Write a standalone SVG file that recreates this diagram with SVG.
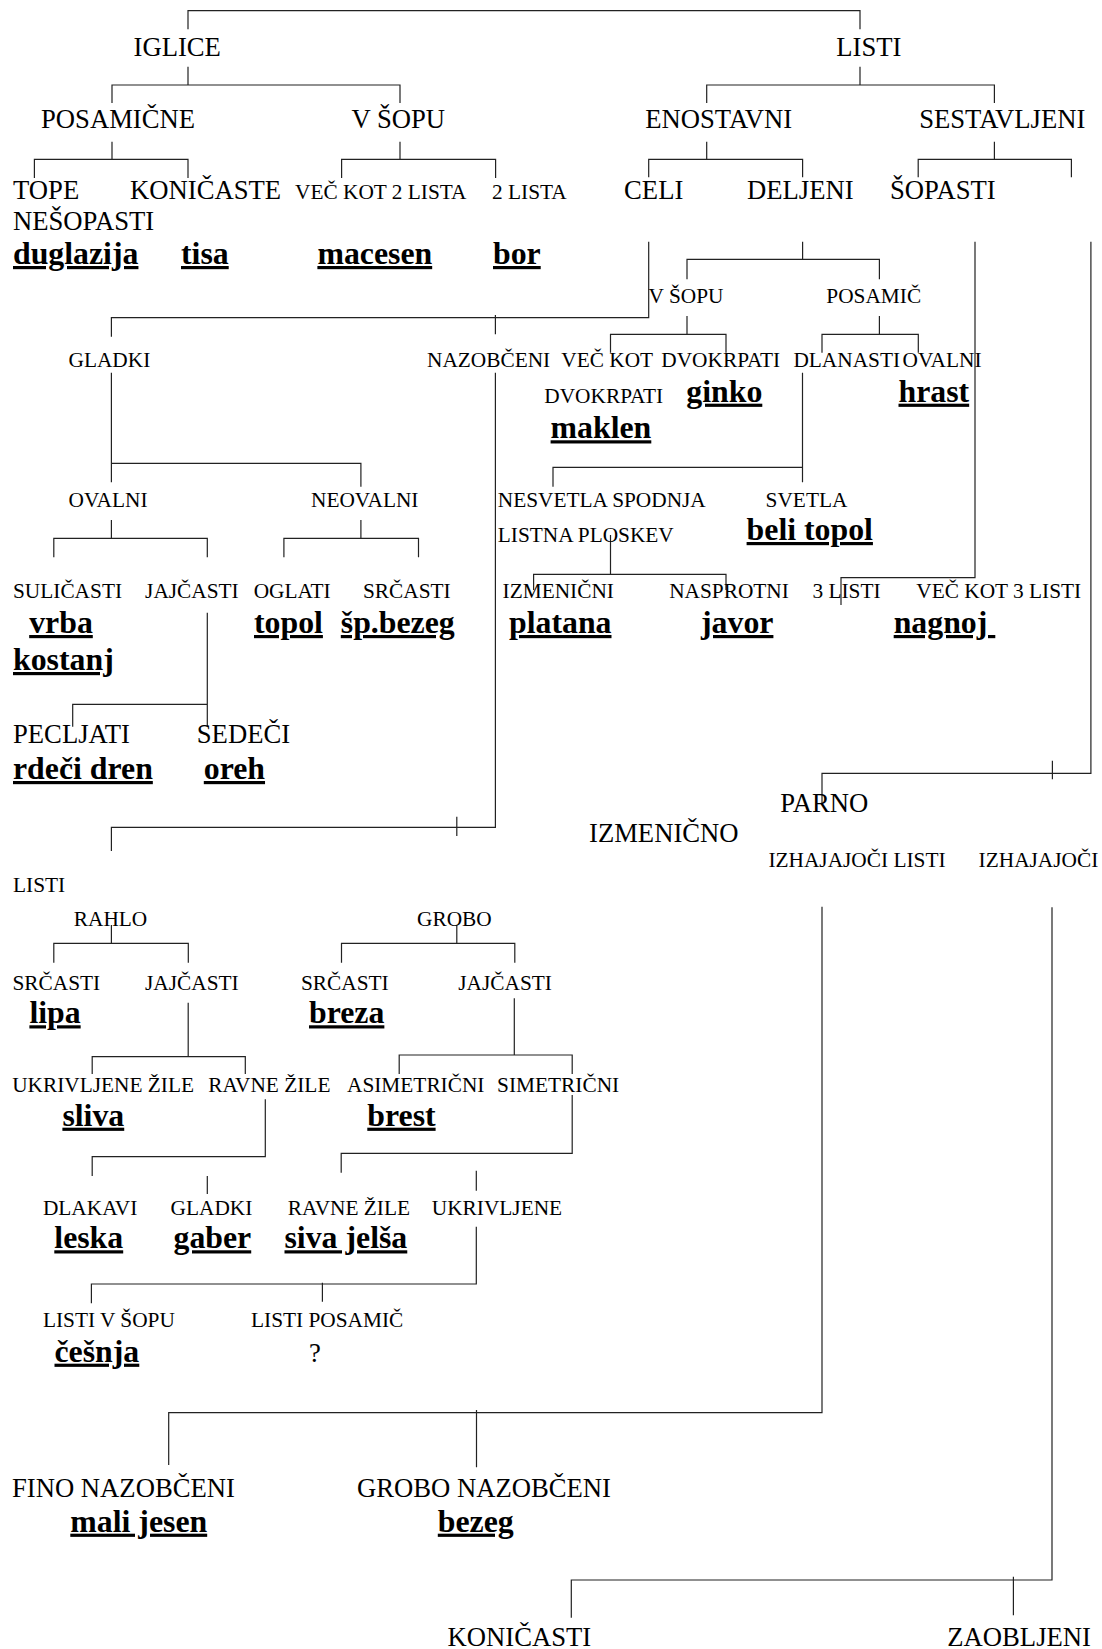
<svg xmlns="http://www.w3.org/2000/svg" width="1102" height="1649" viewBox="0 0 1102 1649">
<style>
text{font-family:"Liberation Serif","Times New Roman",serif;fill:#000}
.b{font-size:26.67px}
.s{font-size:21.33px}
.k{font-size:31.8px;font-weight:bold;text-decoration:underline;white-space:pre}
#connectors path{fill:none;stroke:#222;stroke-width:1.2}
</style>
<rect width="1102" height="1649" fill="#fff"/>
<g id="connectors">
<path d="M188,29.3V10.7H860V29.3"/>
<path d="M188,66.7V85M112,103V85H400V103"/>
<path d="M112,141.7V159.3M34.4,178V159.3H188V178"/>
<path d="M400,141.7V159.3M341.6,178V159.3H495.6V178"/>
<path d="M860,66.7V85M706.7,103V85H994.4V103"/>
<path d="M706.7,141.7V159.3M648.7,177.3V159.3H802.6V177.3"/>
<path d="M994.4,141.7V159.3M918.2,177.3V159.3H1071.4V177.3"/>
<path d="M648.7,241.7V317.7H111.4V336.7M495.4,315V334.3"/>
<path d="M802.6,241.7V259.3M687,279.3V259.3H879.4V279.3"/>
<path d="M687,316V334.3M610.5,352.7V334.3H726V352.7"/>
<path d="M879.4,316V334.3M822,352.7V334.3H918.3V352.7"/>
<path d="M111.4,372.7V482.3M111.4,463.3H360.9V486.7"/>
<path d="M495.4,372.7V827.3H111.4V851M456.8,816.7V836"/>
<path d="M802.5,372.7V482.3M553,486.7V467.3H802.5"/>
<path d="M111.4,520V538.3M53.8,557.3V538.3H207.3V557.3"/>
<path d="M360.9,520V538.3M283.9,557.3V538.3H418.5V557.3"/>
<path d="M610.5,535V574.3M533.6,590V574.3H726V590"/>
<path d="M975,241.7V577.7H841V605"/>
<path d="M1090.9,241.7V773.3H822V803M1052.4,760.7V779.3"/>
<path d="M207.3,612.7V726.7M72.7,726.7V704.3H207.3"/>
<path d="M111.4,925V943.3M53.8,962.7V943.3H188.3V962.7"/>
<path d="M456.8,925V943.3M341.5,962.7V943.3H514.8V962.7"/>
<path d="M188.2,1002.7V1056.7M92.2,1074V1056.7H245.3V1074"/>
<path d="M514.3,998.3V1055M399.2,1074V1055H572.2V1074"/>
<path d="M265.3,1099.3V1156.7H92.2V1176M207.3,1176V1194"/>
<path d="M572.2,1095V1153.3H341.2V1172.7M476.3,1170.7V1190.7"/>
<path d="M476.3,1226.7V1284H91.4V1303.3M322.4,1282.7V1301.7"/>
<path d="M822,906.7V1412.7H168.7V1465M476.5,1410V1467.3"/>
<path d="M1052,907.3V1580H571.3V1617.7M1013.4,1576.7V1615.3"/>
</g>
<g id="n-iglice"><text class="b" x="133.5" y="56">IGLICE</text></g>
<g id="n-listi"><text class="b" x="836.3" y="56">LISTI</text></g>
<g id="n-posamicne"><text class="b" x="41" y="128">POSAMIČNE</text></g>
<g id="n-vsopu"><text class="b" x="351.5" y="128">V ŠOPU</text></g>
<g id="n-enostavni"><text class="b" x="645.2" y="128">ENOSTAVNI</text></g>
<g id="n-sestavljeni"><text class="b" x="919.2" y="128">SESTAVLJENI</text></g>
<g id="n-tope"><text class="b" x="13" y="199">TOPE</text><text class="b" x="13" y="230">NEŠOPASTI</text><text class="k" x="13" y="264">duglazija</text></g>
<g id="n-konicaste"><text class="b" x="130" y="199">KONIČASTE</text><text class="k" x="181" y="264">tisa</text></g>
<g id="n-vec2"><text class="s" x="295" y="199">VEČ KOT 2 LISTA</text><text class="k" x="317.4" y="264">macesen</text></g>
<g id="n-2lista"><text class="s" x="492" y="199">2 LISTA</text><text class="k" x="493" y="264">bor</text></g>
<g id="n-celi"><text class="b" x="624.1" y="199">CELI</text></g>
<g id="n-deljeni"><text class="b" x="747" y="199">DELJENI</text></g>
<g id="n-sopasti"><text class="b" x="890" y="199">ŠOPASTI</text></g>
<g id="n-d-vsopu"><text class="s" x="648.6" y="302.7">V ŠOPU</text></g>
<g id="n-d-posamic"><text class="s" x="826.3" y="302.7">POSAMIČ</text></g>
<g id="n-gladki"><text class="s" x="68.5" y="367.3">GLADKI</text></g>
<g id="n-nazobceni"><text class="s" x="427" y="367.3">NAZOBČENI</text></g>
<g id="n-vec-dvokrpati"><text class="s" x="561.3" y="367.3">VEČ KOT</text><text class="s" x="544.3" y="403.3">DVOKRPATI</text><text class="k" x="550.6" y="438.3">maklen</text></g>
<g id="n-dvokrpati"><text class="s" x="661.3" y="367.3">DVOKRPATI</text><text class="k" x="686.3" y="401.7">ginko</text></g>
<g id="n-dlanasti"><text class="s" x="793.4" y="367.3">DLANASTI</text></g>
<g id="n-ovalni-d"><text class="s" x="902.5" y="367.3">OVALNI</text><text class="k" x="898.5" y="401.7">hrast</text></g>
<g id="n-ovalni"><text class="s" x="68.5" y="506.7">OVALNI</text></g>
<g id="n-neovalni"><text class="s" x="311" y="506.7">NEOVALNI</text></g>
<g id="n-nesvetla"><text class="s" x="497.8" y="506.7">NESVETLA SPODNJA</text><text class="s" x="497.8" y="541.7">LISTNA PLOSKEV</text></g>
<g id="n-svetla"><text class="s" x="765.6" y="506.7">SVETLA</text><text class="k" x="746.6" y="540">beli topol</text></g>
<g id="n-sulicasti"><text class="s" x="13" y="598.3">SULIČASTI</text><text class="k" x="29.2" y="633">vrba</text><text class="k" x="13" y="670">kostanj</text></g>
<g id="n-jajcasti-o"><text class="s" x="145.1" y="598.3">JAJČASTI</text></g>
<g id="n-oglati"><text class="s" x="253.7" y="598.3">OGLATI</text><text class="k" x="254" y="633">topol</text></g>
<g id="n-srcasti-n"><text class="s" x="363" y="598.3">SRČASTI</text><text class="k" x="340.8" y="633">šp.bezeg</text></g>
<g id="n-izmenicni"><text class="s" x="502.6" y="598.3">IZMENIČNI</text><text class="k" x="509" y="633">platana</text></g>
<g id="n-nasprotni"><text class="s" x="669.2" y="598.3">NASPROTNI</text><text class="k" x="701" y="633">javor</text></g>
<g id="n-3listi"><text class="s" x="812.4" y="598.3">3 LISTI</text></g>
<g id="n-vec3"><text class="s" x="916.3" y="598.3">VEČ KOT 3 LISTI</text><text class="k" x="893.7" y="633">nagnoj </text></g>
<g id="n-pecljati"><text class="b" x="13" y="743.3">PECLJATI</text><text class="k" x="13" y="779">rdeči dren</text></g>
<g id="n-sedeci"><text class="b" x="196.8" y="743.3">SEDEČI</text><text class="k" x="203.8" y="779">oreh</text></g>
<g id="n-parno"><text class="b" x="780.3" y="811.7">PARNO</text></g>
<g id="n-izmenicno"><text class="b" x="589" y="841.7">IZMENIČNO</text></g>
<g id="n-izhajajoci-listi"><text class="s" x="768.4" y="867.3">IZHAJAJOČI LISTI</text></g>
<g id="n-izhajajoci"><text class="s" x="978.6" y="867.3">IZHAJAJOČI</text></g>
<g id="n-listi2"><text class="s" x="13" y="891.7">LISTI</text></g>
<g id="n-rahlo"><text class="s" x="73.8" y="926">RAHLO</text></g>
<g id="n-grobo"><text class="s" x="417" y="926">GROBO</text></g>
<g id="n-srcasti-r"><text class="s" x="12.5" y="990">SRČASTI</text><text class="k" x="29.4" y="1023.3">lipa</text></g>
<g id="n-jajcasti-r"><text class="s" x="145" y="990">JAJČASTI</text></g>
<g id="n-srcasti-g"><text class="s" x="301" y="990">SRČASTI</text><text class="k" x="309" y="1023.3">breza</text></g>
<g id="n-jajcasti-g"><text class="s" x="458.3" y="990">JAJČASTI</text></g>
<g id="n-ukrivljene-zile"><text class="s" x="12.2" y="1091.7">UKRIVLJENE ŽILE</text><text class="k" x="62.4" y="1125.7">sliva</text></g>
<g id="n-ravne-zile"><text class="s" x="208.2" y="1091.7">RAVNE ŽILE</text></g>
<g id="n-asimetricni"><text class="s" x="347" y="1091.7">ASIMETRIČNI</text><text class="k" x="367.3" y="1125.7">brest</text></g>
<g id="n-simetricni"><text class="s" x="497.1" y="1091.7">SIMETRIČNI</text></g>
<g id="n-dlakavi"><text class="s" x="42.9" y="1215">DLAKAVI</text><text class="k" x="54.3" y="1248.3">leska</text></g>
<g id="n-gladki2"><text class="s" x="170.6" y="1215">GLADKI</text><text class="k" x="173.5" y="1248.3">gaber</text></g>
<g id="n-ravne-zile2"><text class="s" x="287.8" y="1215">RAVNE ŽILE</text><text class="k" x="284.5" y="1248.3">siva jelša</text></g>
<g id="n-ukrivljene"><text class="s" x="431.8" y="1215">UKRIVLJENE</text></g>
<g id="n-listi-vsopu"><text class="s" x="42.9" y="1326.7">LISTI V ŠOPU</text><text class="k" x="54.5" y="1361.7">češnja</text></g>
<g id="n-listi-posamic"><text class="s" x="251" y="1326.7">LISTI POSAMIČ</text><text class="b" x="309" y="1361.7">?</text></g>
<g id="n-fino"><text class="b" x="12" y="1496.7">FINO NAZOBČENI</text><text class="k" x="70.3" y="1531.7">mali jesen</text></g>
<g id="n-grobo-naz"><text class="b" x="357" y="1496.7">GROBO NAZOBČENI</text><text class="k" x="437.8" y="1531.7">bezeg</text></g>
<g id="n-konicasti"><text class="b" x="447.6" y="1646">KONIČASTI</text></g>
<g id="n-zaobljeni"><text class="b" x="947.3" y="1646">ZAOBLJENI</text></g>
</svg>
